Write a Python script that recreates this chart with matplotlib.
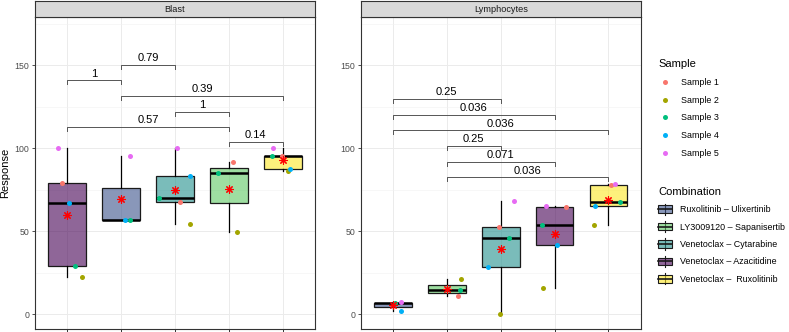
import numpy as np
import matplotlib
matplotlib.use("Agg")
import matplotlib.pyplot as plt
from matplotlib.patches import Rectangle
from matplotlib.lines import Line2D
from matplotlib.legend_handler import HandlerBase

plt.rcParams['font.family'] = ['Liberation Sans', 'DejaVu Sans']

# ---- data ----
combinations = ['Ruxolitinib – Ulixertinib', 'LY3009120 – Sapanisertib',
                'Venetoclax – Cytarabine', 'Venetoclax – Azacitidine',
                'Venetoclax –  Ruxolitinib']
combo_colors = ['#3B528B', '#5DC863', '#21908C', '#440154', '#FDE725']

samples = ['Sample 1', 'Sample 2', 'Sample 3', 'Sample 4', 'Sample 5']
sample_colors = ['#F8766D', '#A3A500', '#00BF7D', '#00B0F6', '#E76BF3']

nan = np.nan

# Blast panel
blast_order = [3, 0, 2, 1, 4]
blast_values = [
    [79.3, nan, 67.9, 91.8, 95.6],
    [22.7, nan, 54.2, 49.4, 86.1],
    [28.9, 56.8, 70.1, 84.9, 95.4],
    [67.3, 57.0, 83.5, nan, 87.3],
    [100.0, 95.4, 100.0, nan, 100.0],
]
blast_jitter = [
    [-0.10, 0, 0.09, 0.07, -0.02],
    [0.27, 0, 0.27, 0.16, 0.09],
    [0.15, 0.17, -0.30, -0.20, -0.19],
    [0.03, 0.08, 0.27, 0, 0.14],
    [-0.17, 0.17, 0.04, 0, -0.18],
]
blast_pairs = [(1, 2), (2, 3), (2, 5), (3, 4), (1, 4), (4, 5)]
blast_ypos = [141.0, 150.2, 131.5, 122.1, 113.1, 104.0]
blast_p = ['1', '0.79', '0.39', '1', '0.57', '0.14']

# Lymphocytes panel
lymph_order = [0, 1, 2, 3, 4]
lymph_values = [
    [nan, 10.8, 52.4, 64.5, 77.7],
    [nan, 21.1, 0.0, 16.1, 53.8],
    [6.6, 14.7, 46.2, 53.6, 67.5],
    [2.2, nan, 28.7, 41.6, 65.1],
    [7.4, nan, 68.3, 65.1, 78.7],
]
lymph_jitter = [
    [0, 0.20, -0.04, 0.21, 0.05],
    [0, 0.26, -0.01, -0.21, -0.26],
    [0.04, 0.24, 0.15, -0.24, 0.21],
    [0.15, 0, -0.24, 0.05, -0.25],
    [0.14, 0, 0.25, -0.15, 0.12],
]
lymph_pairs = [(1, 3), (1, 4), (1, 5), (2, 3), (2, 4), (2, 5)]
lymph_ypos = [129.9, 120.3, 110.8, 101.6, 92.0, 82.5]
lymph_p = ['0.25', '0.036', '0.036', '0.25', '0.071', '0.036']


W, H = 789, 332
fig = plt.figure(figsize=(W / 100, H / 100), dpi=100)


def draw_panel(x0, title, order, values, jitter, pairs, ypos, plabels):
    ax = fig.add_axes([x0 / W, 3 / H, 280 / W, 312 / H])
    vals = np.array(values, dtype=float)
    pos = np.arange(1, 6)

    ax.set_xlim(0.4, 5.6)
    ax.set_ylim(-8.86, 179.1)
    ax.set_yticks([0, 50, 100, 150])
    ax.set_yticks([25, 75, 125, 175], minor=True)
    ax.set_xticks(pos)
    ax.grid(True, which='major', color='#ebebeb', lw=0.7)
    ax.grid(True, which='minor', axis='y', color='#f2f2f2', lw=0.4)
    ax.set_axisbelow(True)
    ax.tick_params(axis='both', which='major', length=2.5, width=0.6,
                   color='#333333', labelsize=6.3, labelcolor='#4d4d4d', pad=1.5)
    ax.tick_params(axis='x', labelbottom=False)
    ax.tick_params(axis='y', which='minor', length=0)
    for s in ax.spines.values():
        s.set_color('#333333')
        s.set_linewidth(0.8)

    data = [vals[:, g][~np.isnan(vals[:, g])] for g in range(5)]
    bp = ax.boxplot(data, positions=pos, widths=0.7, patch_artist=True,
                    showfliers=False, showcaps=False,
                    whiskerprops=dict(color='black', lw=0.9),
                    boxprops=dict(edgecolor='#1a1a1a', lw=0.9),
                    medianprops=dict(color='black', lw=1.8))
    for patch, ci in zip(bp['boxes'], order):
        patch.set_facecolor(matplotlib.colors.to_rgba(combo_colors[ci], 0.6))
        patch.set_zorder(2)
    for m in bp['medians']:
        m.set_zorder(3)

    for si in range(5):
        xs = pos + np.array(jitter[si])
        ax.plot(xs, vals[si], 'o', ms=3.6, color=sample_colors[si],
                mec='none', zorder=4)

    means = np.nanmean(vals, axis=0)
    ax.plot(pos, means, ls='none', marker=(8, 2, 0), ms=6, mew=0.8,
            color='red', zorder=5)

    for (i, j), y, lab in zip(pairs, ypos, plabels):
        ax.plot([i, i, j, j], [y - 2.4, y, y, y - 2.4], color='#555555',
                lw=0.7, zorder=3)
        ax.text((i + j) / 2, y + 1.0, lab, ha='center', va='bottom',
                fontsize=8, color='black')

    strip = fig.add_axes([x0 / W, 315 / H, 280 / W, 16.5 / H])
    strip.set_facecolor('#d9d9d9')
    strip.set_xticks([])
    strip.set_yticks([])
    for s in strip.spines.values():
        s.set_color('#333333')
        s.set_linewidth(0.8)
    strip.text(0.5, 0.45, title, ha='center', va='center', fontsize=6.6,
               color='#1a1a1a', transform=strip.transAxes)
    return ax


ax1 = draw_panel(35, 'Blast', blast_order, blast_values, blast_jitter,
                 blast_pairs, blast_ypos, blast_p)
ax2 = draw_panel(360.7, 'Lymphocytes', lymph_order, lymph_values, lymph_jitter,
                 lymph_pairs, lymph_ypos, lymph_p)
ax1.set_ylabel('Response', fontsize=8, labelpad=3)


class BoxKey(HandlerBase):
    def create_artists(self, legend, orig_handle, xdescent, ydescent,
                       width, height, fontsize, trans):
        fc = orig_handle.get_facecolor()
        cx = -xdescent + width / 2
        y0 = -ydescent
        whisk = Line2D([cx, cx], [y0 - 0.25 * height, y0 + 1.25 * height],
                       color='#1a1a1a', lw=0.8, transform=trans)
        box = Rectangle((-xdescent, y0), width, height, facecolor=fc,
                        edgecolor='#1a1a1a', lw=0.8, transform=trans)
        med = Line2D([-xdescent, -xdescent + width], [y0 + height / 2] * 2,
                     color='#1a1a1a', lw=1.2, transform=trans)
        return [whisk, box, med]


sample_handles = [Line2D([], [], ls='none', marker='o', ms=3.6, mec='none',
                         color=c) for c in sample_colors]
leg1 = fig.legend(sample_handles, samples, title='Sample',
                  loc='upper left', bbox_to_anchor=(652 / W, 1 - 53 / H),
                  frameon=False, fontsize=6.4, title_fontsize=8,
                  alignment='left', handlelength=1.6, handletextpad=1.0,
                  labelspacing=0.98, borderpad=0.2)

combo_handles = [Rectangle((0, 0), 1, 1,
                           facecolor=matplotlib.colors.to_rgba(c, 0.6))
                 for c in combo_colors]
leg2 = fig.legend(combo_handles, combinations, title='Combination',
                  loc='upper left', bbox_to_anchor=(652 / W, 1 - 180.5 / H),
                  frameon=False, fontsize=6.4, title_fontsize=8,
                  alignment='left', handlelength=1.6, handleheight=0.9,
                  handletextpad=0.9, labelspacing=0.95, borderpad=0.2,
                  handler_map={Rectangle: BoxKey()})

fig.savefig('out.png', dpi=100)
